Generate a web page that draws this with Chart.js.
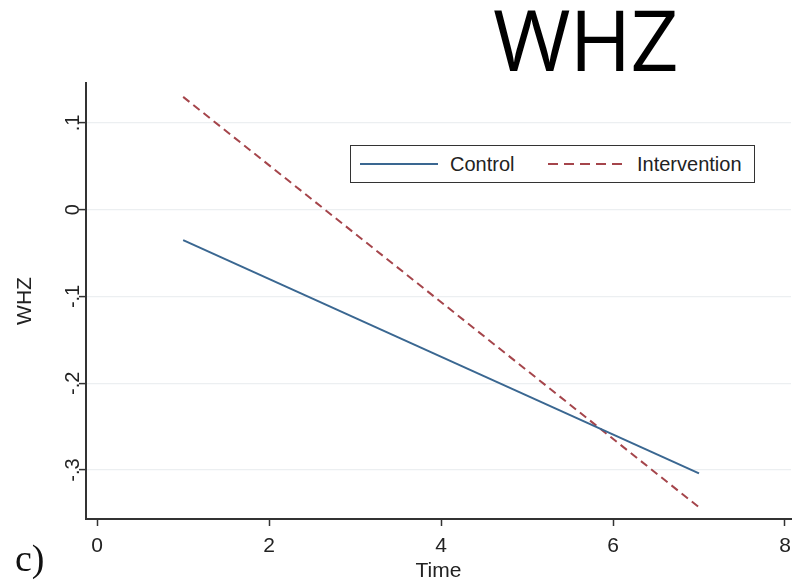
<!DOCTYPE html>
<html>
<head>
<meta charset="utf-8">
<script src="https://cdn.jsdelivr.net/npm/chart.js@4/dist/chart.umd.min.js"></script>
<style>
  html, body { margin: 0; padding: 0; background: #fff; }
  #wrap { position: relative; width: 799px; height: 584px; overflow: hidden; }
  #chart { position: absolute; left: 0; top: 0; }
  #title { position: absolute; left: 493px; top: -11px; font-family: "Open Sans", "Noto Sans", sans-serif; font-size: 84px; color: #000; line-height: 1.2; letter-spacing: -1px; }
  #panel { position: absolute; left: 15px; top: 536px; font-family: "Liberation Serif", "DejaVu Serif", serif; font-size: 38px; color: #111; line-height: 1.2; }
  #legend { position: absolute; left: 350px; top: 145px; width: 403px; height: 36px; border: 1.5px solid #333; background: #fff;
            font-family: "Liberation Sans", Arial, sans-serif; font-size: 20px; color: #222; }
  #legend .item { position: absolute; top: 0; height: 36px; display: flex; align-items: center; }
  #legend svg { display: block; }
</style>
</head>
<body>
<div id="wrap">
  <canvas id="chart" width="799" height="584"></canvas>
  <div id="title">WHZ</div>
  <div id="panel">c)</div>
  <div id="legend"></div>
</div>
<script>
// ---- data ----
const timePoints = [1, 7];
const controlValues = [-0.035, -0.304];
const interventionValues = [0.130, -0.343];
const seriesNames = ['Control', 'Intervention'];
const xTickValues = [0, 2, 4, 6, 8];
const xTickLabels = ['0', '2', '4', '6', '8'];
const yTickValues = [0.1, 0, -0.1, -0.2, -0.3];
const yTickLabels = ['.1', '0', '-.1', '-.2', '-.3'];
const xTitle = 'Time';
const yTitle = 'WHZ';

const colControl = '#3a6791';
const colInterv = '#a5454b';
const axisColor = '#333';
const gridColor = '#eceff1';
const fontFam = '"Liberation Sans", Arial, sans-serif';

function pts(xs, ys) { return xs.map((x, i) => ({ x: x, y: ys[i] })); }

const yLabelPlugin = {
  id: 'yLabels',
  afterDraw(chart) {
    const ctx = chart.ctx;
    const ys = chart.scales.y;
    ctx.save();
    ctx.fillStyle = '#222';
    ctx.font = '20px ' + fontFam;
    ctx.textAlign = 'center';
    ctx.textBaseline = 'middle';
    yTickValues.forEach((v, i) => {
      const py = ys.getPixelForValue(v);
      ctx.save();
      ctx.translate(73, py);
      ctx.rotate(-Math.PI / 2);
      ctx.fillText(yTickLabels[i], 0, 0);
      ctx.restore();
    });
    const mid = (ys.top + ys.bottom) / 2;
    ctx.save();
    ctx.font = '21px ' + fontFam;
    ctx.translate(25, mid);
    ctx.rotate(-Math.PI / 2);
    ctx.fillText(yTitle, 0, 0);
    ctx.restore();
    ctx.restore();
  }
};

const chart = new Chart(document.getElementById('chart'), {
  type: 'line',
  data: {
    datasets: [
      { label: seriesNames[0], data: pts(timePoints, controlValues), borderColor: colControl, backgroundColor: colControl,
        borderWidth: 2, pointRadius: 0, tension: 0, fill: false },
      { label: seriesNames[1], data: pts(timePoints, interventionValues), borderColor: colInterv, backgroundColor: colInterv,
        borderWidth: 2, borderDash: [8, 5], pointRadius: 0, tension: 0, fill: false }
    ]
  },
  options: {
    responsive: false,
    animation: false,
    devicePixelRatio: 1,
    layout: { padding: { left: 0, top: 83, right: 8, bottom: 0 } },
    plugins: { legend: { display: false }, tooltip: { enabled: false }, title: { display: false } },
    scales: {
      x: {
        type: 'linear',
        min: -0.13, max: 8.07,
        afterBuildTicks(s) { s.ticks = xTickValues.map(v => ({ value: v })); },
        afterFit(s) { s.height = 65; },
        ticks: { autoSkip: false, maxRotation: 0, color: '#222', padding: 8,
                 font: { family: fontFam, size: 21 },
                 callback(v) { const i = xTickValues.indexOf(v); return i >= 0 ? xTickLabels[i] : ''; } },
        grid: { drawOnChartArea: false, drawTicks: true, tickLength: 7, tickColor: axisColor, tickWidth: 1.5 },
        border: { display: true, color: axisColor, width: 2 },
        title: { display: true, text: xTitle, color: '#222', font: { family: fontFam, size: 21 }, padding: { top: 0, bottom: 0 } }
      },
      y: {
        type: 'linear',
        min: -0.3565, max: 0.146,
        afterBuildTicks(s) { s.ticks = yTickValues.map(v => ({ value: v })); },
        afterFit(s) { s.width = 86; },
        ticks: { color: 'rgba(0,0,0,0)', font: { family: fontFam, size: 20 }, callback() { return ''; } },
        grid: { color: gridColor, lineWidth: 1.2, drawTicks: true, tickLength: 7, tickColor: axisColor, tickWidth: 1.5 },
        border: { display: true, color: axisColor, width: 2 }
      }
    }
  },
  plugins: [yLabelPlugin]
});

// HTML legend built from datasets
(function buildLegend() {
  const lg = document.getElementById('legend');
  const layout = [ { lineX: 9, textX: 99 }, { lineX: 197, textX: 286 } ];
  chart.data.datasets.forEach((ds, i) => {
    const sw = document.createElement('div');
    sw.className = 'item';
    sw.style.left = layout[i].lineX + 'px';
    const dash = ds.borderDash ? 'stroke-dasharray="10 6"' : '';
    sw.innerHTML = '<svg width="78" height="4"><line x1="0" y1="2" x2="78" y2="2" stroke="' + ds.borderColor + '" stroke-width="2" ' + dash + '/></svg>';
    lg.appendChild(sw);
    const tx = document.createElement('div');
    tx.className = 'item';
    tx.style.left = layout[i].textX + 'px';
    tx.textContent = ds.label;
    lg.appendChild(tx);
  });
})();
</script>
</body>
</html>
